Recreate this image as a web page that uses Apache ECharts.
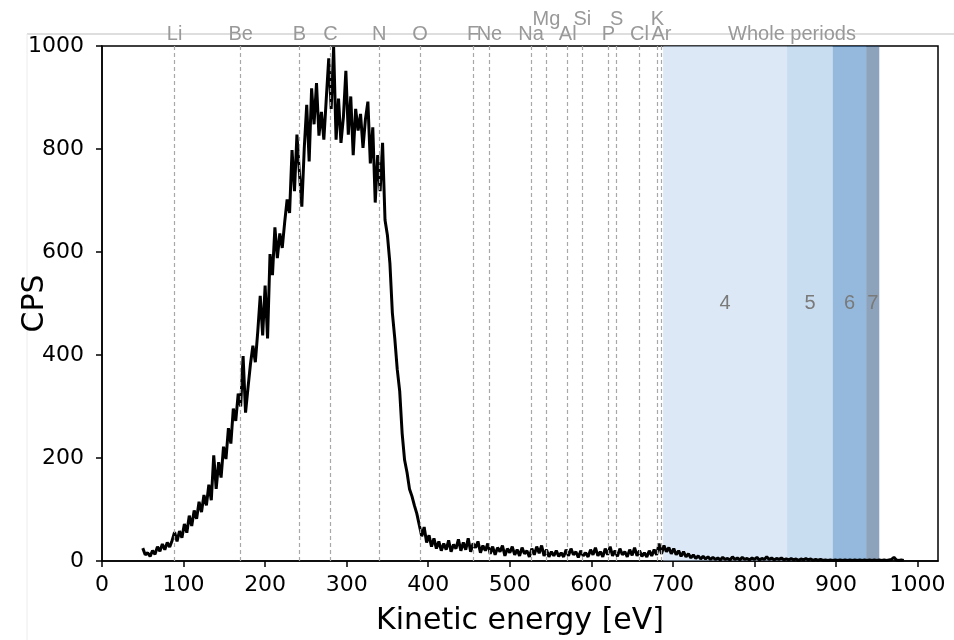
<!DOCTYPE html>
<html>
<head>
<meta charset="utf-8">
<script src="https://cdn.jsdelivr.net/npm/echarts@6/dist/echarts.min.js"></script>
<style>
  html, body { margin: 0; padding: 0; background: #fff; }
  #main { width: 954px; height: 640px; }
</style>
</head>
<body>
<div id="main"></div>
<script>
// spectrum sampled every 3 eV starting at 50 eV
var energyStart = 50
var energyStep = 3
var counts = [
  25, 12, 16, 9, 20, 13, 28, 19, 33, 22, 36, 27, 40,
  56, 38, 58, 45, 72, 55, 88, 68, 98, 82, 115, 95, 128, 108, 148, 118, 205,
  140, 192, 162, 222, 198, 258, 228, 296, 272, 325, 300, 398, 288, 336, 382, 418, 386, 446, 515, 438, 535,
  432, 596, 555, 648, 588, 636, 608, 658, 702, 676, 798, 718, 828, 755, 688, 802, 886, 776, 918, 848,
  928, 826, 872, 818, 898, 976, 878, 998, 818, 898, 812, 862, 952, 828, 902, 788, 878, 836, 868, 802,
  858, 892, 772, 842, 696, 788, 718, 812, 662, 632, 578, 482, 432, 372, 330, 248, 196, 172, 140, 126,
  108, 92, 70, 48, 66, 36, 50, 28, 44, 24, 38, 20, 34, 22, 40, 18, 32, 24, 42, 20,
  36, 22, 44, 18, 34, 26, 38, 16, 30, 20, 34, 14, 28, 12, 26, 18, 30, 10, 24, 16,
  28, 12, 22, 10, 26, 14, 20, 8, 24, 12, 28, 15, 30, 10, 22, 8, 18, 10, 20, 9,
  16, 8, 22, 10, 24, 12, 18, 7, 20, 10, 16, 8, 22, 12, 26, 10, 18, 8, 24, 12,
  28, 10, 20, 9, 24, 12, 18, 8, 22, 11, 26, 10, 20, 9, 16, 8, 20, 10, 22, 12,
  34, 14, 30, 18, 26, 14, 24, 12, 20, 9, 18, 8, 14, 6, 12, 5, 10, 4, 9, 4,
  8, 3, 7, 3, 6, 2, 7, 3, 5, 2, 8, 3, 6, 2, 7, 3, 5, 2, 6, 3,
  7, 2, 5, 3, 8, 3, 6, 2, 5, 3, 6, 2, 4, 2, 5, 2, 4, 1, 4, 2,
  5, 2, 4, 1, 3, 1, 3, 1, 2, 1, 2, 1, 2, 1, 2, 1, 2, 1, 2, 1,
  2, 1, 2, 1, 2, 1, 2, 1, 2, 1, 2, 1, 2, 1, 2, 3, 7, 2, 1, 2, 1
]

var elementNames = ['Li', 'Be', 'B', 'C', 'N', 'O', 'F', 'Ne', 'Na', 'Mg', 'Al', 'Si', 'P', 'S', 'Cl', 'K', 'Ar']
var elementEnergies = [89, 170, 242, 280, 340, 390, 455, 475, 526, 545, 571, 589, 621, 631, 659, 681, 686]

var periodNames = ['4', '5', '6', '7']
var periodStarts = [688, 840, 896, 937]
var periodEnds = [840, 896, 937, 953]
var periodsTitle = 'Whole periods'
var periodsTitleAt = 846

var xTicks = [0, 100, 200, 300, 400, 500, 600, 700, 800, 900, 1000]
var yTicks = [0, 200, 400, 600, 800, 1000]

var spectrum = counts.map(function(c, i) {
  return [energyStart + i * energyStep, c]
})

var raised = ['Mg', 'Si', 'S', 'K']
var bandColors = ['rgba(185,209,235,0.5)', 'rgba(147,187,225,0.5)', 'rgba(41,115,185,0.5)', 'rgba(27,71,119,0.5)']

var elementLines = elementNames.map(function(name, i) {
  return {
    xAxis: elementEnergies[i],
    label: { formatter: name, distance: raised.indexOf(name) >= 0 ? 17 : 2 }
  }
})
// title over the shaded periods, its line is invisible
elementLines.push({
  xAxis: periodsTitleAt,
  lineStyle: { color: 'rgba(0,0,0,0)' },
  label: { formatter: periodsTitle, distance: 2, color: '#999' }
})

var bands = periodNames.map(function(name, i) {
  return [
    { name: name, xAxis: periodStarts[i], itemStyle: { color: bandColors[i] } },
    { xAxis: periodEnds[i] }
  ]
})

function plain(v) {
  return String(v)
}

var myChart = echarts.init(document.getElementById('main'))
var option = {
  animation: false,
  graphic: [
    { type: 'line', shape: { x1: 27, y1: 34, x2: 954, y2: 34 }, style: { stroke: '#bdbdbd', lineWidth: 1 }, z: -10 },
    { type: 'line', shape: { x1: 27, y1: 34, x2: 27, y2: 640 }, style: { stroke: '#ececec', lineWidth: 1 }, z: -10 }
  ],
  grid: {
    left: 102,
    right: 16,
    top: 46,
    bottom: 79,
    containLabel: false,
    outerBoundsMode: 'none',
    show: true,
    borderColor: '#000',
    borderWidth: 1.5
  },
  xAxis: {
    type: 'value',
    min: 0,
    max: 1025,
    interval: 100,
    name: 'Kinetic energy [eV]',
    nameLocation: 'middle',
    nameGap: 45,
    nameTextStyle: { fontFamily: 'DejaVu Sans', fontSize: 30, color: '#000' },
    axisLine: { show: true, lineStyle: { color: '#000', width: 1.5 } },
    axisTick: { show: true, length: 6, customValues: xTicks, lineStyle: { color: '#000', width: 1.5 } },
    axisLabel: { customValues: xTicks, formatter: plain, fontFamily: 'DejaVu Sans', fontSize: 22, color: '#000', margin: 13 },
    splitLine: { show: false }
  },
  yAxis: {
    type: 'value',
    min: 0,
    max: 1000,
    interval: 200,
    name: 'CPS',
    nameLocation: 'middle',
    nameGap: 52,
    nameMoveOverlap: false,
    nameRotate: 90,
    nameTextStyle: { fontFamily: 'DejaVu Sans', fontSize: 30, color: '#000' },
    axisLine: { show: true, lineStyle: { color: '#000', width: 1.5 } },
    axisTick: { show: true, length: 6, customValues: yTicks, lineStyle: { color: '#000', width: 1.5 } },
    axisLabel: { customValues: yTicks, formatter: plain, fontFamily: 'DejaVu Sans', fontSize: 22, color: '#000', margin: 18 },
    splitLine: { show: false }
  },
  series: [
    {
      name: 'spectrum',
      type: 'line',
      data: spectrum,
      showSymbol: false,
      z: 2,
      lineStyle: { color: '#000', width: 3 }
    },
    {
      name: 'elements',
      type: 'line',
      data: [],
      z: 1,
      markLine: {
        silent: true,
        symbol: ['none', 'none'],
        lineStyle: { color: '#a8a8a8', type: [4, 3], width: 1.2 },
        label: {
          position: 'end',
          color: '#999',
          fontSize: 20,
          fontFamily: 'Liberation Sans'
        },
        data: elementLines
      }
    },
    {
      name: 'periods',
      type: 'line',
      data: [],
      z: 5,
      markArea: {
        silent: true,
        label: {
          show: true,
          position: 'inside',
          color: '#7a7a7a',
          fontSize: 20,
          fontFamily: 'Liberation Sans'
        },
        data: bands
      }
    }
  ]
}
myChart.setOption(option)
</script>
</body>
</html>
